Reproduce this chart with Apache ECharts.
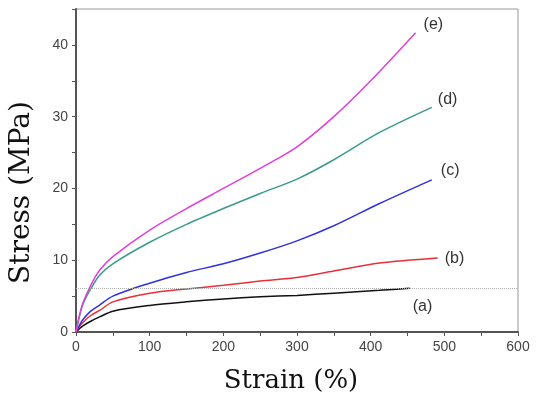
<!DOCTYPE html>
<html>
<head>
<meta charset="utf-8">
<script src="https://cdn.jsdelivr.net/npm/echarts@6/dist/echarts.min.js"></script>
<style>
  html, body { margin: 0; padding: 0; background: #fff; }
  #chart { width: 536px; height: 394px; }
</style>
</head>
<body>
<div id="chart"></div>
<script>
// strain (%) / stress (MPa)
const curveA = [[0,0],[5,0.5],[10,0.9],[20,1.5],[32,2.1],[50,2.9],[100,3.7],[150,4.2],[200,4.6],[250,4.9],[300,5.1],[350,5.4],[412,5.8],[453,6.1]]
const curveB = [[0,0],[5,0.8],[10,1.4],[20,2.3],[32,3.0],[50,4.2],[100,5.4],[150,6.0],[200,6.5],[250,7.1],[300,7.6],[350,8.5],[412,9.6],[491,10.3]]
const curveC = [[0,0],[5,1.0],[10,1.8],[20,2.9],[32,3.75],[50,5.0],[100,6.8],[150,8.3],[200,9.5],[250,11],[300,12.7],[350,14.8],[412,17.9],[483,21.2]]
const curveD = [[0,0],[5,2.3],[10,4.0],[20,6.0],[32,7.9],[50,9.5],[100,12.5],[150,15],[200,17.2],[250,19.3],[300,21.3],[350,24],[412,27.8],[483,31.3]]
const curveE = [[0,0],[5,2.5],[10,4.2],[20,6.5],[32,8.6],[50,10.5],[100,14.2],[150,17.2],[200,20],[250,22.8],[300,25.8],[350,30],[400,35],[461,41.7]]
const curveNames = ['(a)', '(b)', '(c)', '(d)', '(e)']
const refLine = 6.1

const colors = ['#111111', '#e8303a', '#3232dc', '#3a9a8c', '#e23fd8']
const labelOffsets = [[-5, 18], [-1, 1], [1, -9], [-2, -8], [0, -8]]

const chart = echarts.init(document.getElementById('chart'))

const series = [curveA, curveB, curveC, curveD, curveE].map((d, i) => ({
  name: curveNames[i],
  type: 'line',
  data: d,
  smooth: 0.3,
  showSymbol: false,
  lineStyle: { color: colors[i], width: 1.5 },
  endLabel: {
    show: true,
    formatter: curveNames[i],
    color: '#333',
    fontSize: 16,
    fontFamily: 'Liberation Sans, Arial, sans-serif',
    offset: labelOffsets[i]
  }
}))

// gray dotted reference line
series[0].markLine = {
  silent: true,
  symbol: 'none',
  label: { show: false },
  lineStyle: { color: '#b0b0b0', type: 'dotted', width: 1 },
  data: [{ yAxis: refLine }]
}

chart.setOption({
  animation: false,
  backgroundColor: '#fff',
  grid: {
    left: 76, right: 18, top: 9, bottom: 62,
    outerBoundsMode: 'none',
    show: true, borderColor: '#999', borderWidth: 1
  },
  xAxis: {
    type: 'value',
    min: 0, max: 600, interval: 50,
    name: 'Strain (%)',
    nameLocation: 'middle',
    nameGap: 36,
    nameTextStyle: { fontFamily: 'DejaVu Serif, serif', fontSize: 26, color: '#111', padding: [0, 12, 0, 0] },
    axisLine: { lineStyle: { color: '#555', width: 2 } },
    axisTick: { length: 4, lineStyle: { color: '#555' } },
    axisLabel: {
      formatter: v => (v % 100 === 0 ? String(v) : ''),
      color: '#444', fontSize: 14, fontFamily: 'Liberation Sans, Arial, sans-serif', margin: 8
    },
    splitLine: { show: false }
  },
  yAxis: {
    type: 'value',
    min: 0, max: 45, interval: 5,
    name: 'Stress (MPa)',
    nameLocation: 'middle',
    nameGap: 40,
    nameTextStyle: { fontFamily: 'DejaVu Serif, serif', fontSize: 28, color: '#111', padding: [0, 44, 0, 0] },
    axisLine: { lineStyle: { color: '#555', width: 2 } },
    axisTick: { length: 4, lineStyle: { color: '#555' } },
    axisLabel: {
      formatter: v => (v % 10 === 0 ? String(v) : ''),
      color: '#444', fontSize: 14, fontFamily: 'Liberation Sans, Arial, sans-serif', margin: 8
    },
    splitLine: { show: false }
  },
  series: series
})
</script>
</body>
</html>
